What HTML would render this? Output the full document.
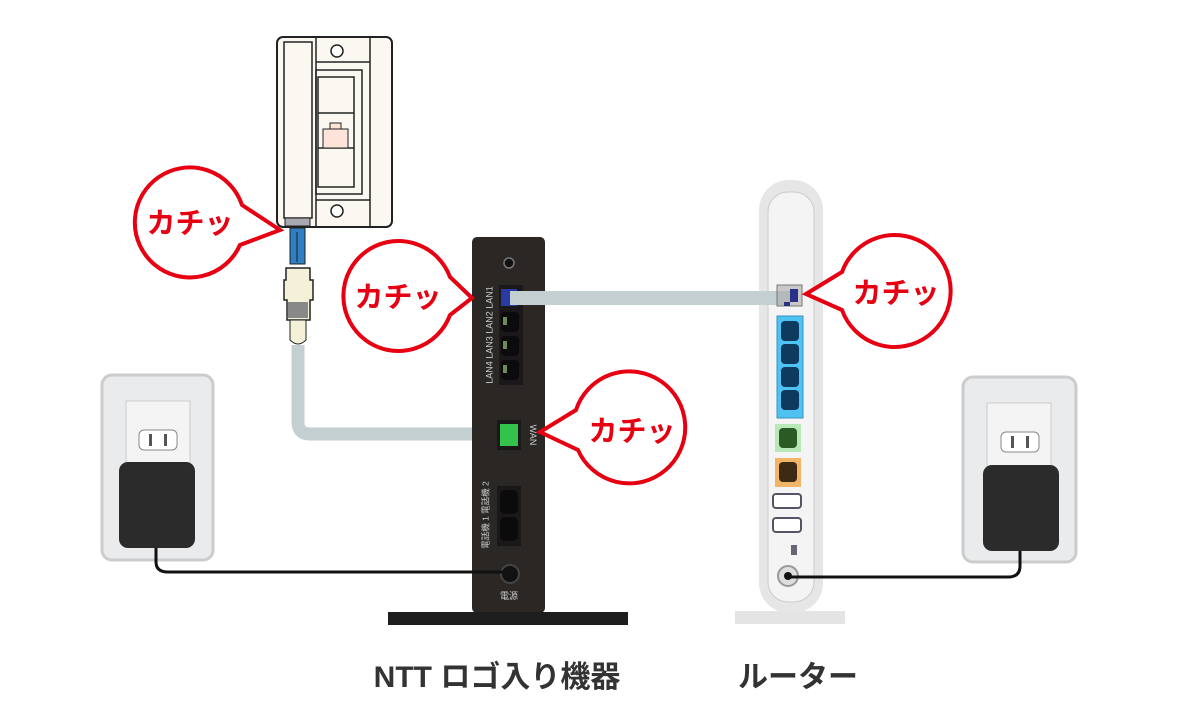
<!DOCTYPE html>
<html><head><meta charset="utf-8"><style>
html,body{margin:0;padding:0;background:#fff;width:1200px;height:720px;overflow:hidden}
svg{display:block}
text{font-family:"Liberation Sans","Noto Sans CJK JP",sans-serif}
</style></head><body>
<svg width="1200" height="720" viewBox="0 0 1200 720" xmlns="http://www.w3.org/2000/svg">
<!-- cables -->
<path d="M298 345 V422 Q298 434 310 434 H510" stroke="#c3cfd0" stroke-width="13" fill="none"/>
<!-- wall jack -->
<rect x="277" y="37" width="115" height="190" rx="6" fill="#faf8f0" stroke="#222" stroke-width="2"/>
<rect x="284" y="42" width="28" height="176" fill="#faf8f0" stroke="#222" stroke-width="1.5"/>
<line x1="316" y1="38" x2="316" y2="226" stroke="#222" stroke-width="1.5"/>
<line x1="370" y1="38" x2="370" y2="226" stroke="#222" stroke-width="1.5"/>
<line x1="316" y1="62" x2="370" y2="62" stroke="#222" stroke-width="1.5"/>
<line x1="316" y1="200" x2="370" y2="200" stroke="#222" stroke-width="1.5"/>
<circle cx="337" cy="51" r="6" fill="#fff" stroke="#222" stroke-width="1.5"/>
<circle cx="337" cy="211" r="6" fill="#fff" stroke="#222" stroke-width="1.5"/>
<rect x="316" y="70" width="46" height="124" fill="none" stroke="#222" stroke-width="1.5"/>
<rect x="318" y="77" width="36" height="110" fill="none" stroke="#222" stroke-width="1.5"/>
<line x1="318" y1="113" x2="354" y2="113" stroke="#222" stroke-width="1.5"/>
<line x1="318" y1="148" x2="354" y2="148" stroke="#222" stroke-width="1.5"/>
<rect x="323" y="129" width="25" height="19" fill="#fde3da" stroke="#222"/>
<rect x="330" y="123" width="11" height="6" fill="#fde3da" stroke="#222"/>
<rect x="285" y="218" width="25" height="8" fill="#a9a9b3" stroke="#222"/>
<rect x="290" y="228" width="15" height="36" fill="#2f7fc4" stroke="#222"/>
<line x1="297" y1="232" x2="297" y2="262" stroke="#222"/>
<path d="M286 268 H310 V280 H313 V300 H310 V320 H287 V300 H284 V280 H286 Z" fill="#f4f1d8" stroke="#222" stroke-width="1.5"/>
<rect x="288" y="302" width="20" height="16" fill="#888"/>
<path d="M290 320 H306 V340 Q298 348 290 340 Z" fill="#f4f1d8" stroke="#222"/>
<!-- NTT device -->
<rect x="472" y="237" width="73" height="376" rx="5" fill="#2b2725"/>
<rect x="388" y="612" width="240" height="13" fill="#1e1e1e"/>
<circle cx="509" cy="263" r="5" fill="#111" stroke="#777" stroke-width="1.5"/>
<rect x="499" y="285" width="24" height="100" fill="#1a1818"/>
<path d="M501 289 H517 V306 H501 Z" fill="#2b3aa0"/>
<rect x="501" y="312" width="18" height="20" rx="4" fill="#0b0b0b"/>
<rect x="501" y="336" width="18" height="20" rx="4" fill="#0b0b0b"/>
<rect x="501" y="360" width="18" height="20" rx="4" fill="#0b0b0b"/>
<rect x="503" y="317" width="4" height="8" fill="#6c8a5c"/><rect x="503" y="341" width="4" height="8" fill="#6c8a5c"/><rect x="503" y="365" width="4" height="8" fill="#6c8a5c"/>
<text transform="translate(490,335) rotate(-90)" font-size="9" fill="#ccc" text-anchor="middle" dominant-baseline="middle">LAN4 LAN3 LAN2 LAN1</text>
<rect x="497" y="420" width="24" height="30" fill="#1a1818"/>
<path d="M500 424 H518 V446 H500 Z" fill="#33c24a"/>
<text transform="translate(530,435) rotate(90)" font-size="9" fill="#ccc" text-anchor="middle">WAN</text>
<rect x="497" y="486" width="24" height="60" fill="#1a1818"/>
<rect x="500" y="490" width="18" height="24" rx="5" fill="#0b0b0b"/>
<rect x="500" y="517" width="18" height="24" rx="5" fill="#0b0b0b"/>
<text transform="translate(486,515) rotate(-90)" font-size="8.5" fill="#ccc" text-anchor="middle" dominant-baseline="middle">電話機 1 電話機 2</text>
<circle cx="510" cy="574" r="9" fill="#111" stroke="#444" stroke-width="2"/>
<text x="509" y="599" font-size="9" fill="#ccc" text-anchor="middle">電源</text>
<!-- Router -->
<rect x="735" y="611" width="110" height="13" fill="#e4e4e4"/>
<rect x="759" y="180" width="64" height="433" rx="30" fill="#e6e6e6"/>
<rect x="768" y="192" width="46" height="410" rx="20" fill="#f4f4f4" stroke="#ccc"/>
<path d="M510 298 H790" stroke="#c3cfd0" stroke-width="14" fill="none"/>
<rect x="777" y="285" width="25" height="21" fill="#aaa" stroke="#777" fill-opacity="0.6"/>
<path d="M790 289 H798 V302 H784 V306 H790 Z" fill="#2a2f8a"/>
<rect x="777" y="316" width="26" height="102" fill="#4ec3f2" stroke="#3a90c0"/>
<rect x="781" y="321" width="18" height="20" rx="4" fill="#0d3a5e"/><rect x="781" y="344" width="18" height="20" rx="4" fill="#0d3a5e"/><rect x="781" y="367" width="18" height="20" rx="4" fill="#0d3a5e"/><rect x="781" y="390" width="18" height="20" rx="4" fill="#0d3a5e"/>
<rect x="775" y="424" width="26" height="28" fill="#b8e8b8"/>
<rect x="779" y="428" width="18" height="20" rx="4" fill="#2c5a24"/>
<rect x="775" y="458" width="26" height="29" fill="#f2b466"/>
<rect x="779" y="462" width="18" height="20" rx="4" fill="#3c2a14"/>
<rect x="773" y="494" width="28" height="14" rx="3" fill="#fff" stroke="#556" stroke-width="2"/>
<rect x="773" y="518" width="28" height="14" rx="3" fill="#fff" stroke="#556" stroke-width="2"/>
<rect x="791" y="545" width="6" height="10" fill="#667"/>
<circle cx="788" cy="576" r="10" fill="#ddd" stroke="#999" stroke-width="2"/>
<circle cx="788" cy="576" r="4" fill="#111"/>
<!-- outlets -->
<g>
<rect x="102" y="375" width="111" height="185" rx="10" fill="#e9ebed" stroke="#ccc" stroke-width="3"/>
<rect x="126" y="401" width="64" height="80" fill="#f4f4f4" stroke="#ccc"/>
<rect x="139" y="430" width="38" height="20" rx="5" fill="#fff" stroke="#888"/>
<rect x="149" y="434" width="3" height="12" fill="#555"/><rect x="164" y="434" width="3" height="12" fill="#555"/>
<rect x="119" y="462" width="76" height="86" rx="9" fill="#2b2b2b"/>
<path d="M156 548 V562 Q156 572 168 572 H510" stroke="#111" stroke-width="3" fill="none"/>
</g>
<g>
<rect x="963" y="377" width="113" height="185" rx="10" fill="#e9ebed" stroke="#ccc" stroke-width="3"/>
<rect x="987" y="403" width="64" height="80" fill="#f4f4f4" stroke="#ccc"/>
<rect x="1001" y="432" width="38" height="20" rx="5" fill="#fff" stroke="#888"/>
<rect x="1011" y="436" width="3" height="12" fill="#555"/><rect x="1026" y="436" width="3" height="12" fill="#555"/>
<rect x="983" y="465" width="76" height="86" rx="9" fill="#2b2b2b"/>
<path d="M1020 551 V566 Q1020 577 1008 577 H788" stroke="#111" stroke-width="3" fill="none"/>
</g>
<!-- bubbles -->
<g fill="#fff" stroke="#e60012" stroke-width="4" stroke-linejoin="miter">
<path d="M242 205 A55 55 0 1 0 240 245 L280 230 Z"/>
<path d="M450 277 A55 55 0 1 0 450 315 L472 298 Z"/>
<path d="M576 410 A56 56 0 1 1 578 450 L540 432 Z"/>
<path d="M842 272 A56 56 0 1 1 842 310 L806 294 Z"/>
</g>
<g fill="#e60012" font-size="29" font-weight="bold" text-anchor="middle">
<text x="190" y="233">カチッ</text>
<text x="398" y="307">カチッ</text>
<text x="632" y="441">カチッ</text>
<text x="896" y="303">カチッ</text>
</g>
<text x="497" y="687" font-size="30" font-weight="bold" fill="#333" text-anchor="middle">NTT ロゴ入り機器</text>
<text x="798" y="687" font-size="30" font-weight="bold" fill="#333" text-anchor="middle">ルーター</text>
</svg>
</body></html>
